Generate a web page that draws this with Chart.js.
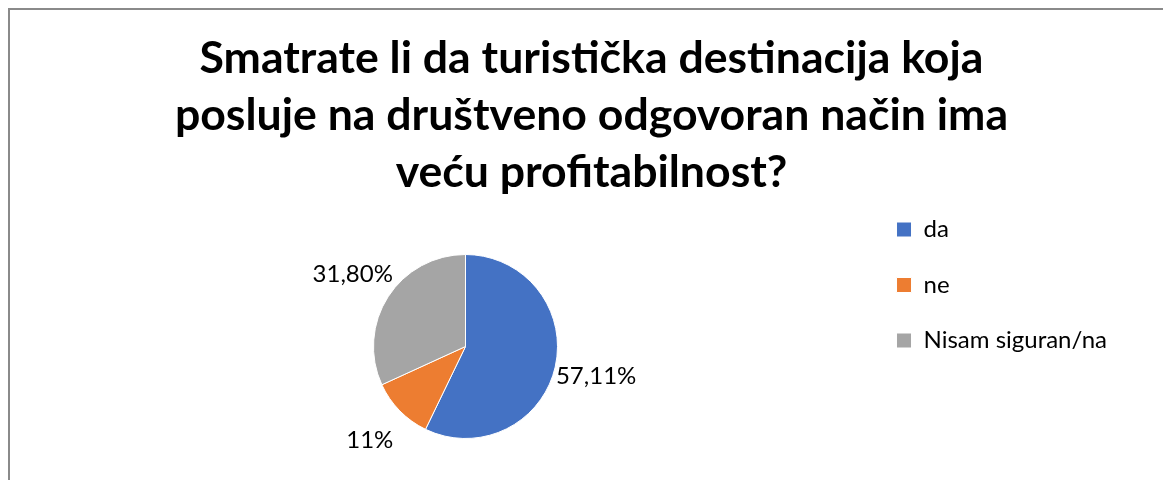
<!DOCTYPE html>
<html>
<head>
<meta charset="utf-8">
<script src="https://cdn.jsdelivr.net/npm/chart.js@4"></script>
<style>
body { margin: 0; overflow: hidden; background: #fff; }
#frame { position: absolute; left: 8px; top: 8px; width: 2000px; height: 2000px; border-left: 2px solid #8a8a8a; border-top: 2px solid #8a8a8a; }
#container { position: absolute; left: 10px; top: 10px; width: 1160px; height: 500px; }
</style>
</head>
<body>
<div id="frame"></div>
<div id="container"><canvas id="myChart"></canvas></div>
<script>
var titleLines = ['Smatrate li da turistička destinacija koja', 'posluje na društveno odgovoran način ima', 'veću profitabilnost?'];
var categories = ['da', 'ne', 'Nisam siguran/na'];
var values = [57.11, 11, 31.80];
var valueLabels = ['57,11%', '11%', '31,80%'];
var colors = ['#4472C4', '#ED7D31', '#A5A5A5'];

var fontName = 'Lato';

// draws the percentage next to each slice, outside the pie
var outsideLabels = {
    id: 'outsideLabels',
    afterDatasetsDraw: function (chart) {
        var ctx = chart.ctx;
        var meta = chart.getDatasetMeta(0);
        ctx.save();
        ctx.font = '24px ' + fontName;
        ctx.fillStyle = '#000';
        ctx.textAlign = 'center';
        ctx.textBaseline = 'middle';
        meta.data.forEach(function (arc, i) {
            var p = arc.getProps(['x', 'y', 'startAngle', 'endAngle', 'outerRadius'], true);
            var mid = (p.startAngle + p.endAngle) / 2;
            var dist = p.outerRadius + 42;
            ctx.fillText(valueLabels[i], p.x + Math.cos(mid) * dist, p.y + Math.sin(mid) * dist);
        });
        ctx.restore();
    }
};

var config = {
    type: 'pie',
    data: {
        labels: categories,
        datasets: [{
            data: values,
            backgroundColor: colors,
            borderColor: '#fff',
            borderWidth: 1,
            radius: 92
        }]
    },
    options: {
        responsive: true,
        maintainAspectRatio: false,
        animation: false,
        layout: {
            padding: { left: 56, right: 53, top: 0, bottom: 3 }
        },
        plugins: {
            title: {
                display: true,
                text: titleLines,
                color: '#000',
                font: { family: fontName, size: 44.6, weight: 'bold', lineHeight: '57px' },
                padding: { top: 20, bottom: -15 }
            },
            legend: {
                display: true,
                position: 'right',
                align: 'start',
                fullSize: false,
                labels: {
                    color: '#000',
                    font: { family: fontName, size: 24 },
                    boxWidth: 15,
                    boxHeight: 15,
                    padding: 31.5
                }
            },
            tooltip: { enabled: false }
        }
    },
    plugins: [outsideLabels]
};

var myChart = new Chart(document.getElementById('myChart').getContext('2d'), config);
</script>
</body>
</html>
